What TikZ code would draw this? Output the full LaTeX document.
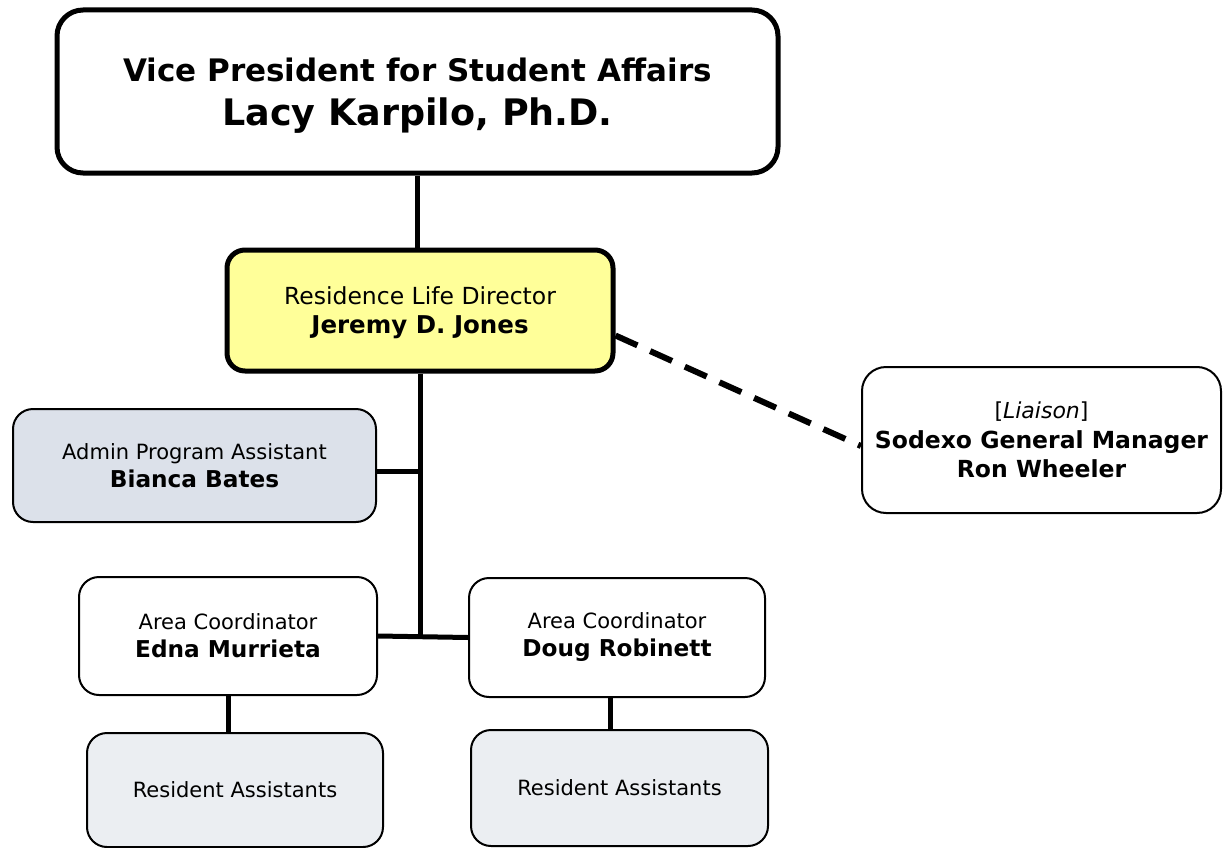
\documentclass[tikz,border=0pt]{standalone}
\usepackage{fontspec}
\setmainfont{DejaVu Sans}
\definecolor{diryellow}{HTML}{FFFF99}
\definecolor{adminblue}{HTML}{DCE1EA}
\definecolor{rafill}{HTML}{EBEEF2}
\tikzset{
  orgbox/.style={draw=black, rounded corners=20pt, line width=2pt, fill=white,
    align=center, inner sep=0pt, text=black},
  bigbox/.style={orgbox, line width=5pt},
  conn/.style={line width=5pt, draw=black},
  liaisonline/.style={line width=6pt, draw=black, dash pattern=on 24pt off 14pt},
  smallfont/.style={font=\fontsize{21}{28}\selectfont},
}
\newcommand{\nm}[1]{{\fontsize{23.2}{28}\selectfont\bfseries #1}}
\begin{document}
\begin{tikzpicture}[x=1pt,y=-1pt]
\useasboundingbox (0,0) rectangle (1223,848);

\node[bigbox, rounded corners=26pt, minimum width=721pt, minimum height=163pt, text depth=0pt,
      font=\fontsize{36.5}{44}\selectfont\bfseries] (vp) at (417.5,91.5)
  {{\fontsize{31}{44}\selectfont\bfseries Vice President for Student Affairs}\\
   Lacy Karpilo, Ph.D.};

\node[bigbox, fill=diryellow, rounded corners=18pt, minimum width=386pt, minimum height=121pt, text depth=0pt,
      font=\fontsize{23.5}{29}\selectfont] (director) at (420,310.5)
  {Residence Life Director\\
   {\fontsize{24.5}{29}\selectfont\bfseries Jeremy D. Jones}};

\node[orgbox, fill=adminblue, smallfont, minimum width=363pt, minimum height=113pt] (admin) at (194.5,465.5)
  {Admin Program Assistant\\ \nm{Bianca Bates}};

\node[orgbox, rounded corners=24pt, minimum width=359pt, minimum height=146pt,
      font=\fontsize{23.5}{29.5}\selectfont\bfseries] (liaison) at (1041.5,440)
  {{\fontsize{22}{29.5}\selectfont\mdseries [\textit{Liaison}]}\\
   Sodexo General Manager\\
   Ron Wheeler};

\node[orgbox, smallfont, minimum width=298pt, minimum height=118pt] (edna) at (228,636)
  {Area Coordinator\\ \nm{Edna Murrieta}};

\node[orgbox, smallfont, minimum width=296pt, minimum height=119pt] (doug) at (617,637.5)
  {Area Coordinator\\ \nm{Doug Robinett}};

\node[orgbox, fill=rafill, smallfont, minimum width=296pt, minimum height=114pt] (raleft) at (235,790)
  {Resident Assistants};

\node[orgbox, fill=rafill, smallfont, minimum width=297pt, minimum height=116pt] (raright) at (619.5,788)
  {Resident Assistants};

% connectors
\draw[conn] (vp.south) -- (vp.south |- director.north);
\coordinate (junc) at (director.south |- edna.east);
\draw[conn] (director.south) -- (junc);
\draw[conn] ([yshift=-6pt]admin.east) -- ([yshift=-6pt]admin.east -| director.south);
\draw[conn] (edna.east) -- (doug.west);
\draw[conn] (edna.south) -- (edna.south |- raleft.north);
\draw[conn] ([xshift=-7pt]doug.south) -- ([xshift=-7pt]doug.south |- raright.north);
\draw[liaisonline] ([yshift=-25pt]director.east) -- ([yshift=-6pt]liaison.west);
\end{tikzpicture}
\end{document}
